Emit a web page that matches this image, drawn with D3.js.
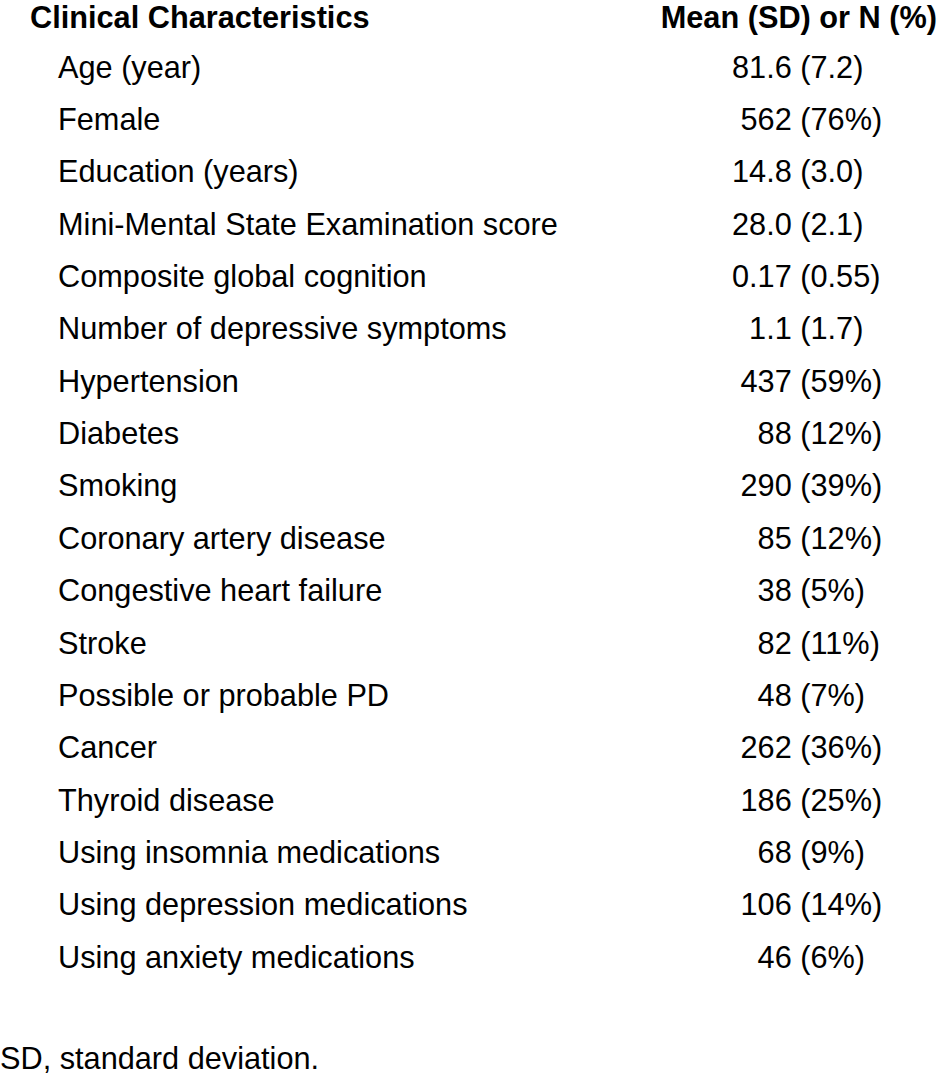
<!DOCTYPE html>
<meta charset="utf-8">
<style>
  body { margin: 0; background: #fff; }
  svg text {
    font-family: "Liberation Sans", Arial, sans-serif;
    font-size: 31.5px;
    fill: #000;
    white-space: pre;
  }
  .head { font-weight: bold; }
</style>
<body></body>
<script src="https://d3js.org/d3.v7.min.js"></script>
<script>

// table content
var headers = ["Clinical Characteristics", "Mean (SD) or N (%)"];

var characteristics = [
  "Age (year)", "Female", "Education (years)", "Mini-Mental State Examination score",
  "Composite global cognition", "Number of depressive symptoms", "Hypertension",
  "Diabetes", "Smoking", "Coronary artery disease", "Congestive heart failure",
  "Stroke", "Possible or probable PD", "Cancer", "Thyroid disease",
  "Using insomnia medications", "Using depression medications", "Using anxiety medications"
];

// leading spaces kept as in the source table (rough digit alignment)
var values = [
  "81.6 (7.2)", " 562 (76%)", "14.8 (3.0)", "28.0 (2.1)",
  "0.17 (0.55)", "  1.1 (1.7)", " 437 (59%)",
  "   88 (12%)", " 290 (39%)", "   85 (12%)", "   38 (5%)",
  "   82 (11%)", "   48 (7%)", " 262 (36%)", " 186 (25%)",
  "   68 (9%)", " 106 (14%)", "   46 (6%)"
];

var footnote = "SD, standard deviation.";

var width = 938, height = 1078;
var sx = 0.975; // glyphs in the original are slightly condensed

var svg = d3.select("body").append("svg")
    .attr("width", width)
    .attr("height", height);

// row baselines
var y = d3.scaleLinear()
    .domain([0, characteristics.length - 1])
    .range([77.5, 967.7]);

function put(sel, x, yy) {
  return sel.attr("transform", "translate(" + x + "," + yy + ") scale(" + sx + ",1)");
}

// header row
put(svg.append("text").attr("class", "head").text(headers[0]), 30, 27.7);
put(svg.append("text").attr("class", "head").attr("text-anchor", "end").text(headers[1]), 937, 27.7);

var rows = svg.selectAll("g.row")
    .data(characteristics)
  .enter().append("g")
    .attr("class", "row");

rows.append("text")
    .attr("transform", function(d, i) { return "translate(58," + y(i) + ") scale(" + sx + ",1)"; })
    .text(function(d) { return d; });

rows.append("text")
    .attr("transform", function(d, i) { return "translate(732," + y(i) + ") scale(" + sx + ",1)"; })
    .text(function(d, i) { return values[i]; });

// footnote
put(svg.append("text").text(footnote), 0, 1069);

</script>
